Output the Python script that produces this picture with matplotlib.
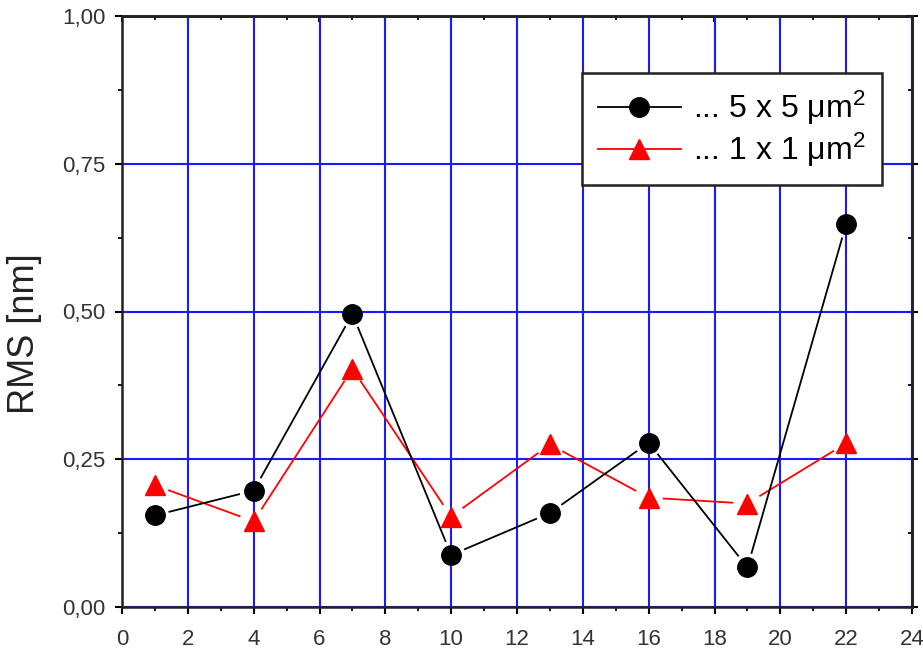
import numpy as np
import matplotlib.pyplot as plt
from matplotlib.ticker import MultipleLocator, FuncFormatter, NullFormatter

plt.rcParams['font.family'] = ['Liberation Sans', 'DejaVu Sans']
plt.rcParams['mathtext.fontset'] = 'custom'
plt.rcParams['mathtext.rm'] = 'Liberation Sans'
plt.rcParams['mathtext.it'] = 'Liberation Sans'

# sample positions
x = [1, 4, 7, 10, 13, 16, 19, 22]
# RMS roughness, 5x5 um^2 scans
rms_5x5 = [0.155, 0.197, 0.496, 0.088, 0.159, 0.278, 0.067, 0.648]
# RMS roughness, 1x1 um^2 scans
rms_1x1 = [0.206, 0.145, 0.403, 0.153, 0.275, 0.185, 0.175, 0.277]

labels = [r'... 5 x 5 $\mu$m$^2$', r'... 1 x 1 $\mu$m$^2$']


def gapped_line(ax, xs, ys, gap, **kw):
    # Origin-style: line segments stop short of the symbols
    tr = ax.transData
    pts = tr.transform(np.column_stack([xs, ys]))
    for p0, p1 in zip(pts[:-1], pts[1:]):
        d = p1 - p0
        n = np.hypot(*d)
        if n <= 2 * gap:
            continue
        u = d / n
        seg = tr.inverted().transform(np.array([p0 + u * gap, p1 - u * gap]))
        ax.plot(seg[:, 0], seg[:, 1], **kw)


fig = plt.figure(figsize=(9.23, 6.55), dpi=100)
ax = fig.add_axes([122 / 923, 48 / 655, 790 / 923, 591 / 655])
ax.set_xlim(0, 24)
ax.set_ylim(0, 1.0)

gapped_line(ax, x, rms_5x5, 15, color='black', lw=1.3, zorder=4)
gapped_line(ax, x, rms_1x1, 15, color='red', lw=1.3, zorder=3)
ax.plot(x, rms_5x5, ls='none', color='black', marker='o', ms=14, zorder=5)
ax.plot(x, rms_1x1, ls='none', color='red', marker='^', ms=15, zorder=4)

# legend proxies
ax.plot([], [], color='black', lw=1.3, marker='o', ms=14, label=labels[0])
ax.plot([], [], color='red', lw=1.3, marker='^', ms=15, label=labels[1])

ax.xaxis.set_major_locator(MultipleLocator(2))
ax.xaxis.set_minor_locator(MultipleLocator(1))
ax.yaxis.set_major_locator(MultipleLocator(0.25))
ax.yaxis.set_minor_locator(MultipleLocator(0.125))
ax.yaxis.set_major_formatter(FuncFormatter(lambda v, p: ('%.2f' % v).replace('.', ',')))

ax.grid(True, which='major', color='#1a1aff', lw=1.5)
ax.set_axisbelow(True)

for s in ax.spines.values():
    s.set_linewidth(1.8)
    s.set_color('#222222')

ax.tick_params(which='major', direction='out', length=5, width=1.5,
               labelsize=16, labelcolor='#333333')
ax.tick_params(which='minor', direction='out', length=3, width=1.3)
ax.tick_params(axis='x', pad=11)
ax.tick_params(axis='y', pad=7)

# inward ticks on top and right
top = ax.secondary_xaxis('top')
top.xaxis.set_major_locator(MultipleLocator(2))
top.xaxis.set_minor_locator(MultipleLocator(1))
top.xaxis.set_major_formatter(NullFormatter())
top.tick_params(which='major', direction='in', length=4, width=1.5)
top.tick_params(which='minor', direction='in', length=3, width=1.3)
top.spines['top'].set_linewidth(1.8)
right = ax.secondary_yaxis('right')
right.yaxis.set_major_locator(MultipleLocator(0.25))
right.yaxis.set_minor_locator(MultipleLocator(0.125))
right.yaxis.set_major_formatter(NullFormatter())
right.tick_params(which='major', direction='inout', length=8, width=1.5)
right.tick_params(which='minor', direction='in', length=3, width=1.3)
right.spines['right'].set_linewidth(1.8)

ax.set_ylabel('RMS [nm]', fontsize=26, color='#222222')
ax.yaxis.set_label_coords(-0.101, 0.462)

leg = ax.legend(loc='upper right', bbox_to_anchor=(0.962, 0.9036), fontsize=23,
                frameon=True, fancybox=False, edgecolor='#222222',
                handlelength=2.6, handletextpad=0.4, borderpad=0.5,
                labelspacing=0.1, borderaxespad=0)
leg.get_frame().set_linewidth(1.8)
leg.get_frame().set_alpha(1)

fig.savefig('out.png', dpi=100)
